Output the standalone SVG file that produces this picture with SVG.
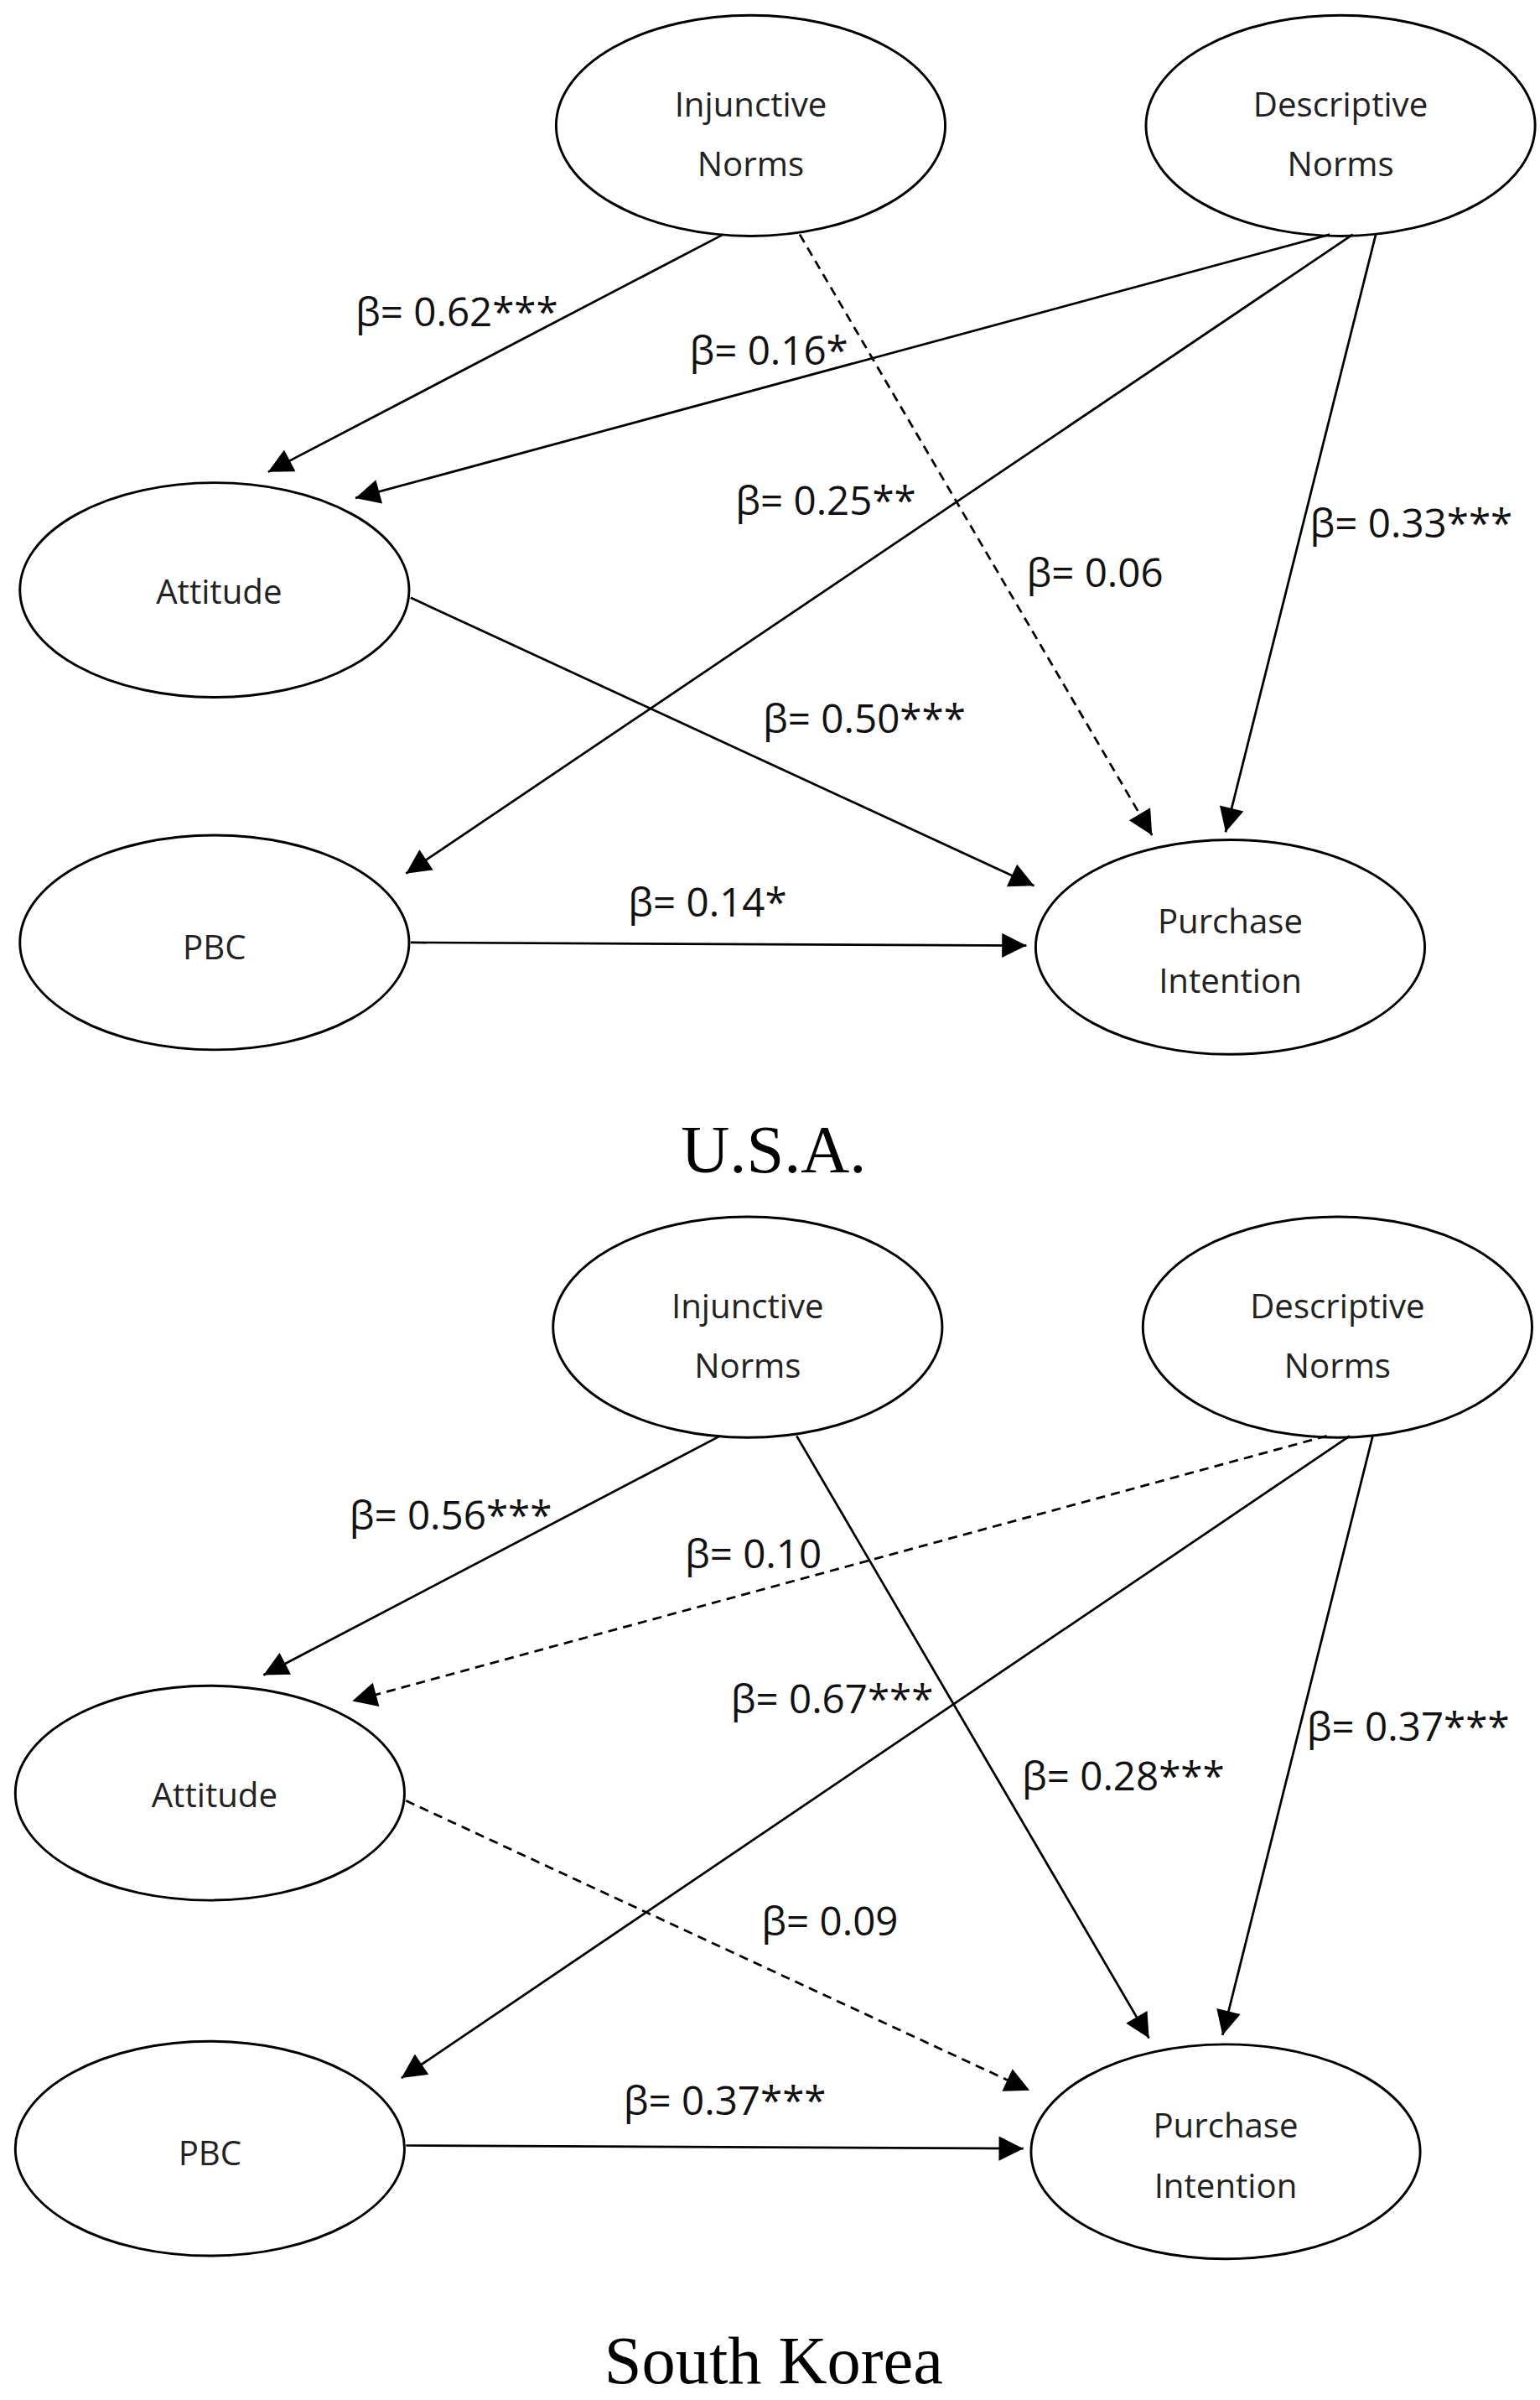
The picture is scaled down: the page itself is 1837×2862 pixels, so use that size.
<svg xmlns="http://www.w3.org/2000/svg" width="1837" height="2862" viewBox="0 0 1837 2862">
<style>
.n{fill:#fff;stroke:#000;stroke-width:1.6}
.nt{font-family:"Open Sans","DejaVu Sans",sans-serif;font-size:22px;fill:#222;text-anchor:middle}
.l{font-family:"Open Sans","DejaVu Sans",sans-serif;font-size:26px;fill:#111}
.c{stroke:#000;stroke-width:1.5;fill:none;marker-end:url(#a)}
.d{stroke-dasharray:6 4}
.t{font-family:"Liberation Serif",serif;font-size:44px;fill:#000;text-anchor:middle}
</style>
<defs><marker id="a" viewBox="0 0 10 10" refX="10" refY="5" markerWidth="18" markerHeight="16" markerUnits="userSpaceOnUse" orient="auto"><path d="M0,0L10,5L0,10z" fill="#000"/></marker></defs>
<rect width="1837" height="2862" fill="#fff"/>
<g transform="scale(1.8275)">
<g id="usa-nodes">
<g id="u-inj"><ellipse class="n" cx="490" cy="82" rx="127" ry="72"/><text class="nt" x="490" y="76">Injunctive</text><text class="nt" x="490" y="115">Norms</text></g>
<g id="u-desc"><ellipse class="n" cx="875" cy="82" rx="127" ry="72"/><text class="nt" x="875" y="76">Descriptive</text><text class="nt" x="875" y="115">Norms</text></g>
<g id="u-att"><ellipse class="n" cx="140" cy="385" rx="127" ry="70"/><text class="nt" x="143" y="394">Attitude</text></g>
<g id="u-pbc"><ellipse class="n" cx="140" cy="615" rx="127" ry="70"/><text class="nt" x="140" y="626">PBC</text></g>
<g id="u-pi"><ellipse class="n" cx="803" cy="618" rx="127" ry="70"/><text class="nt" x="803" y="609">Purchase</text><text class="nt" x="803" y="648">Intention</text></g>
</g>
<g id="usa-connectors">
<line class="c" x1="472" y1="153" x2="175" y2="308"/>
<line class="c" x1="868" y1="153" x2="232" y2="325"/>
<line class="c d" x1="522" y1="153" x2="752" y2="545"/>
<line class="c" x1="883" y1="153" x2="265" y2="570"/>
<line class="c" x1="898" y1="153" x2="800" y2="543"/>
<line class="c" x1="268" y1="390" x2="675" y2="578"/>
<line class="c" x1="268" y1="615" x2="670" y2="617"/>
<text class="l" x="232" y="213">β= 0.62***</text>
<text class="l" x="450" y="238">β= 0.16*</text>
<text class="l" x="670" y="383">β= 0.06</text>
<text class="l" x="480" y="336">β= 0.25**</text>
<text class="l" x="855" y="351">β= 0.33***</text>
<text class="l" x="498" y="478">β= 0.50***</text>
<text class="l" x="410" y="598">β= 0.14*</text>
</g>
<text class="t" x="505" y="765">U.S.A.</text>
<g id="kor-nodes">
<g id="k-inj"><ellipse class="n" cx="488" cy="866" rx="127" ry="72"/><text class="nt" x="488" y="860">Injunctive</text><text class="nt" x="488" y="899">Norms</text></g>
<g id="k-desc"><ellipse class="n" cx="873" cy="866" rx="127" ry="72"/><text class="nt" x="873" y="860">Descriptive</text><text class="nt" x="873" y="899">Norms</text></g>
<g id="k-att"><ellipse class="n" cx="137" cy="1170" rx="127" ry="70"/><text class="nt" x="140" y="1179">Attitude</text></g>
<g id="k-pbc"><ellipse class="n" cx="137" cy="1402" rx="127" ry="70"/><text class="nt" x="137" y="1413">PBC</text></g>
<g id="k-pi"><ellipse class="n" cx="800" cy="1404" rx="127" ry="70"/><text class="nt" x="800" y="1395">Purchase</text><text class="nt" x="800" y="1434">Intention</text></g>
</g>
<g id="kor-connectors">
<line class="c" x1="470" y1="937" x2="172" y2="1093"/>
<line class="c d" x1="866" y1="937" x2="230" y2="1110"/>
<line class="c" x1="520" y1="937" x2="750" y2="1330"/>
<line class="c" x1="881" y1="937" x2="262" y2="1356"/>
<line class="c" x1="896" y1="937" x2="798" y2="1328"/>
<line class="c d" x1="265" y1="1175" x2="672" y2="1364"/>
<line class="c" x1="265" y1="1400" x2="668" y2="1402"/>
<text class="l" x="228" y="998">β= 0.56***</text>
<text class="l" x="447" y="1023">β= 0.10</text>
<text class="l" x="477" y="1118">β= 0.67***</text>
<text class="l" x="667" y="1168">β= 0.28***</text>
<text class="l" x="853" y="1136">β= 0.37***</text>
<text class="l" x="497" y="1263">β= 0.09</text>
<text class="l" x="407" y="1380">β= 0.37***</text>
</g>
<text class="t" x="505" y="1555">South Korea</text>
</g>
</svg>
